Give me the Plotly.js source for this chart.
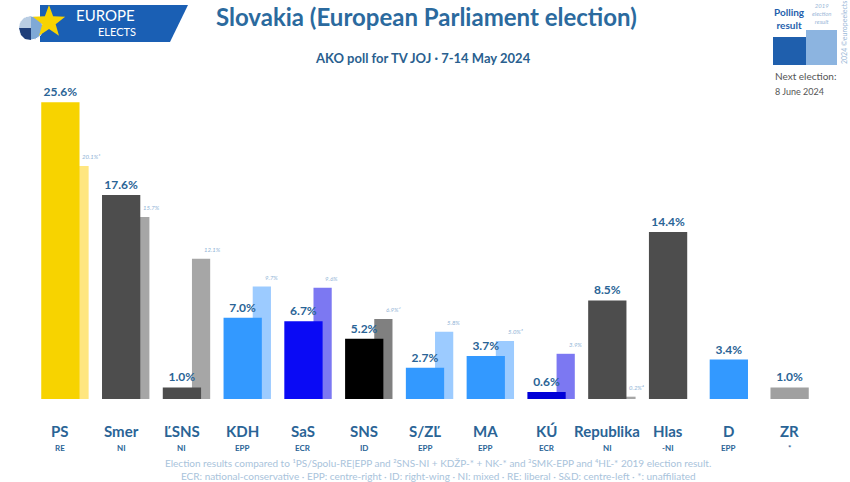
<!DOCTYPE html>
<html>
<head>
<meta charset="utf-8">
<script src="https://cdn.plot.ly/plotly-3.0.1.min.js"></script>
<style>html,body{margin:0;padding:0;background:#fff;}#chart{width:850px;height:482px;}</style>
</head>
<body>
<div id="chart"></div>
<script>
// ---- data ----
const parties = ['PS','Smer','ĽSNS','KDH','SaS','SNS','S/ZĽ','MA','KÚ','Republika','Hlas','D','ZR'];
const groups = ['RE','NI','NI','EPP','ECR','ID','EPP','EPP','ECR','NI','-NI','EPP','*'];
const poll = [25.6,17.6,1.0,7.0,6.7,5.2,2.7,3.7,0.6,8.5,14.4,3.4,1.0];
const prev = [20.1,15.7,12.1,9.7,9.6,6.9,5.8,5.0,3.9,0.2,null,null,null];
const prevNote = ['¹','','','','','²','','³','','⁴','','',''];
const pollColors = ['#F7D300','#4D4D4D','#4D4D4D','#3399FF','#0A0AF5','#000000','#3399FF','#3399FF','#0000D8','#4D4D4D','#4D4D4D','#3399FF','#A0A0A0'];
const prevColors = ['#FFE680','#A6A6A6','#A6A6A6','#9CCBFF','#7C78F2','#808080','#9CCBFF','#9CCBFF','#7C78F2','#A6A6A6','#A6A6A6','#9CCBFF','#A6A6A6'];

const W = 850, H = 482;
const M = {l:30, r:30, t:86, b:83};
const PW = W - M.l - M.r, PH = H - M.t - M.b;
const px = x => (x - M.l) / PW;
const py = y => (H - M.b - y) / PH;

const labelBlue = '#2A6496';
const font = 'Lato, "Open Sans", sans-serif';

const traces = [
  {
    type:'bar', x: parties, y: prev,
    marker:{color: prevColors}, width: 0.30, offset: 0.165,
    hoverinfo:'skip', showlegend:false
  },
  {
    type:'bar', x: parties, y: poll,
    marker:{color: pollColors}, width: 0.63, offset: -0.315,
    text: poll.map(v => v.toFixed(1) + '%'), textposition:'outside',
    textfont:{family: font, size:12, color: labelBlue, weight: 700},
    cliponaxis:false, hoverinfo:'skip', showlegend:false
  }
];

const annotations = [];
parties.forEach((p,i) => {
  annotations.push({x:p, xref:'x', y:0, yref:'paper', yshift:-32, text:p, showarrow:false,
    xanchor:'center', yanchor:'middle', font:{family:font, size:15, color:labelBlue, weight:700}});
  annotations.push({x:p, xref:'x', y:0, yref:'paper', yshift:-49, text:groups[i], showarrow:false,
    xanchor:'center', yanchor:'middle', font:{family:font, size:8, color:labelBlue, weight:700}});
  if (prev[i] !== null) {
    annotations.push({x:p, xref:'x', y:prev[i], yref:'y', xshift:20, yshift:4, text:prev[i].toFixed(1)+'%'+prevNote[i],
      showarrow:false, xanchor:'left', yanchor:'bottom', font:{family:font, size:6, color:'#8FB3D6', style:'italic'}});
  }
});

// titles and footnotes
annotations.push({xref:'paper', yref:'paper', x:px(426), y:py(17), text:'Slovakia (European Parliament election)', showarrow:false,
  xanchor:'center', yanchor:'middle', font:{family:font, size:24, color:'#2B6A9E', weight:700}});
annotations.push({xref:'paper', yref:'paper', x:px(423), y:py(58), text:'AKO poll for TV JOJ · 7-14 May 2024', showarrow:false,
  xanchor:'center', yanchor:'middle', font:{family:font, size:13, color:'#2A5F8F', weight:700}});
annotations.push({xref:'paper', yref:'paper', x:px(438), y:py(463),
  text:'Election results compared to ¹PS/Spolu-RE|EPP and ²SNS-NI + KDŽP-* + NK-* and ³SMK-EPP and ⁴HĽ-* 2019 election result.',
  showarrow:false, xanchor:'center', yanchor:'middle', font:{family:font, size:10, color:'#A9C3DB'}});
annotations.push({xref:'paper', yref:'paper', x:px(438), y:py(476),
  text:'ECR: national-conservative · EPP: centre-right · ID: right-wing · NI: mixed · RE: liberal · S&D: centre-left · *: unaffiliated',
  showarrow:false, xanchor:'center', yanchor:'middle', font:{family:font, size:10, color:'#A9C3DB'}});

// legend box top-right
annotations.push({xref:'paper', yref:'paper', x:px(789), y:py(18), text:'<b>Polling<br>result</b>', showarrow:false,
  xanchor:'center', yanchor:'middle', align:'center', font:{family:font, size:10, color:'#1F5FAD'}});
annotations.push({xref:'paper', yref:'paper', x:px(822), y:py(14), text:'<i>2019<br>election<br>result</i>', showarrow:false,
  xanchor:'center', yanchor:'middle', align:'center', font:{family:font, size:6, color:'#9BB8D8'}});
annotations.push({xref:'paper', yref:'paper', x:px(844), y:py(33), text:'2024 ©europeelects', textangle:-90, showarrow:false,
  xanchor:'center', yanchor:'middle', font:{family:font, size:7, color:'#9BB8D8'}});
annotations.push({xref:'paper', yref:'paper', x:px(773), y:py(76), text:'Next election:', showarrow:false,
  xanchor:'left', yanchor:'middle', font:{family:font, size:10, color:'#555555'}});
annotations.push({xref:'paper', yref:'paper', x:px(773), y:py(91), text:'8 June 2024', showarrow:false,
  xanchor:'left', yanchor:'middle', font:{family:font, size:9, color:'#555555'}});

// logo text
annotations.push({xref:'paper', yref:'paper', x:px(105), y:py(15), text:'EUROPE', showarrow:false,
  xanchor:'center', yanchor:'middle', font:{family:font, size:15, color:'#FFFFFF'}});
annotations.push({xref:'paper', yref:'paper', x:px(117), y:py(32), text:'ELECTS', showarrow:false,
  xanchor:'center', yanchor:'middle', font:{family:font, size:11, color:'#FFFFFF'}});

function pathFrom(points){
  return 'M' + points.map(p => px(p[0]) + ',' + py(p[1])).join(' L') + ' Z';
}
function starPath(cx, cy, R, r){
  const pts = [];
  for (let k=0;k<10;k++){
    const a = -Math.PI/2 + k*Math.PI/5;
    const rad = (k%2===0) ? R : r;
    pts.push([cx + rad*Math.cos(a), cy + rad*Math.sin(a)]);
  }
  return pathFrom(pts);
}

const shapes = [
  // logo banner
  {type:'path', xref:'paper', yref:'paper', path: pathFrom([[40,5],[188,5],[170,42],[40,42]]),
    fillcolor:'#1A5FB4', line:{width:0}, layer:'below'},
  // pie circle
  {type:'circle', xref:'paper', yref:'paper', x0:px(19), x1:px(43), y0:py(40), y1:py(16),
    fillcolor:'#7FA9D6', line:{color:'#FFFFFF', width:1}},
  {type:'path', xref:'paper', yref:'paper', path: pathFrom([[31,28],[19,28],[21,35],[25,39],[31,40]]),
    fillcolor:'#1F3F7A', line:{width:0}},
  {type:'path', xref:'paper', yref:'paper', path: pathFrom([[31,28],[31,16],[24,18],[20,23],[19,28]]),
    fillcolor:'#B9CDE3', line:{width:0}},
  // star
  {type:'path', xref:'paper', yref:'paper', path: starPath(49, 22, 17, 7),
    fillcolor:'#F7D300', line:{width:0}},
  // legend squares
  {type:'rect', xref:'paper', yref:'paper', x0:px(806), x1:px(837), y0:py(65), y1:py(30),
    fillcolor:'#8CB4E0', line:{width:0}},
  {type:'rect', xref:'paper', yref:'paper', x0:px(773), x1:px(806), y0:py(65), y1:py(37),
    fillcolor:'#1F5FAD', line:{width:0}}
];

const layout = {
  width: W, height: H,
  margin: M,
  paper_bgcolor:'#FFFFFF', plot_bgcolor:'#FFFFFF',
  barmode:'overlay',
  showlegend:false,
  xaxis:{type:'category', range:[-0.5, 12.5], showticklabels:false, showgrid:false, zeroline:false, showline:false, ticks:''},
  yaxis:{range:[0, 27], showticklabels:false, showgrid:false, zeroline:false, showline:false, ticks:''},
  annotations: annotations,
  shapes: shapes,
  font:{family: font}
};

Plotly.newPlot('chart', traces, layout, {staticPlot:true, displayModeBar:false});
</script>
</body>
</html>
